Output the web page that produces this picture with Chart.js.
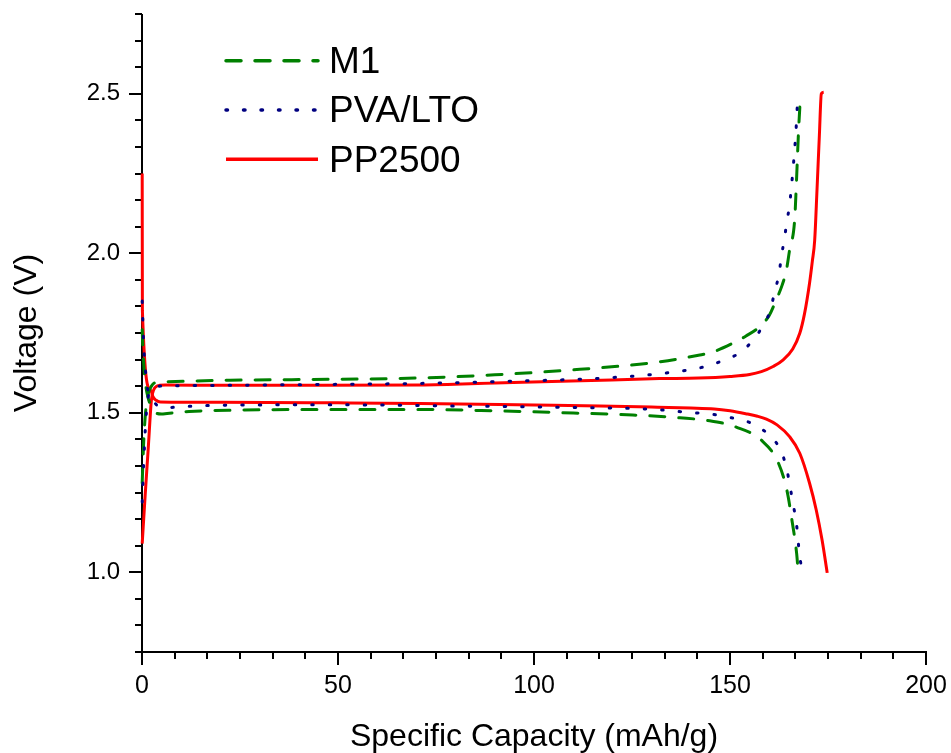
<!DOCTYPE html>
<html><head><meta charset="utf-8">
<script src="https://cdn.jsdelivr.net/npm/chart.js@4.4.1/dist/chart.umd.min.js"></script>
<style>html,body{margin:0;padding:0;background:#fff;}</style>
</head><body>
<canvas id="c" width="951" height="753"></canvas>
<script>
// ---- tick labels ----
const xTickValues = [0, 50, 100, 150, 200];
const xTickLabels = ['0', '50', '100', '150', '200'];
const yTickValues = [1.0, 1.5, 2.0, 2.5];
const yTickLabels = ['1.0', '1.5', '2.0', '2.5'];
const seriesNames = ['M1', 'PVA/LTO', 'PP2500'];

// ---- M1 (green dashed) ----
const m1ChargeCap = [0.05,0.4,0.9,1.6,2.5,3.5,5.6,22.5,50,71,90,111.7,130.3,142.3,145.7,150.7,154,157.6,160,161.8,163.3,164.4,165.2,166.5,166.9,167.5,168.0];
const m1ChargeV   = [1.28,1.40,1.50,1.56,1.585,1.595,1.597,1.602,1.605,1.609,1.619,1.636,1.657,1.681,1.691,1.718,1.740,1.770,1.805,1.854,1.90,1.948,2.01,2.105,2.209,2.387,2.497];
const m1DischCap  = [0.05,0.3,0.8,1.5,2.5,3.5,5,6.4,12,22.5,50,71.8,90,104.8,125.2,137.2,144.8,151.6,158,162.4,164.6,165.8,167,167.4];
const m1DischV    = [1.76,1.68,1.60,1.55,1.515,1.500,1.496,1.498,1.504,1.508,1.510,1.510,1.506,1.501,1.493,1.484,1.475,1.455,1.414,1.341,1.252,1.163,1.059,1.00];

// ---- PVA/LTO (navy dotted) ----
const pvaChargeCap = [0.05,0.5,1.0,1.6,2.5,4,10,40,71,95,116.8,134.6,144.4,148,152.5,155.9,158.5,160.3,161.4,162.5,163.1,163.9,164.5,165.2,166.1,166.8,167.3,167.5];
const pvaChargeV   = [1.22,1.36,1.48,1.55,1.575,1.583,1.585,1.588,1.592,1.599,1.608,1.626,1.647,1.663,1.688,1.728,1.775,1.822,1.880,1.935,1.989,2.047,2.099,2.152,2.267,2.377,2.486,2.50];
const pvaDischCap  = [0.05,0.4,0.9,1.3,2.6,3.4,4.5,6,10,22.5,50,74,113,130,140.5,144.4,149,153.3,157,160.6,163.1,164.5,165.3,166.1,166.9,167.8,168.6];
const pvaDischV    = [1.85,1.72,1.63,1.582,1.551,1.529,1.519,1.516,1.519,1.524,1.525,1.522,1.516,1.511,1.500,1.497,1.487,1.477,1.457,1.423,1.378,1.322,1.27,1.213,1.158,1.048,0.998];

// ---- PP2500 (red solid) ----
const ppChargeCap = [0.05,0.8,1.6,2.4,3.0,3.6,4.5,6,20,40,71,90,112,132,142,150,155,158,161,163.5,166,167.8,169,170.3,171.0,171.6,172.2,172.8,173.3,173.9];
const ppChargeV   = [1.09,1.24,1.39,1.54,1.572,1.582,1.586,1.587,1.586,1.586,1.587,1.593,1.600,1.607,1.609,1.614,1.620,1.629,1.645,1.665,1.700,1.749,1.810,1.907,1.975,2.040,2.200,2.370,2.500,2.505];
const ppDischCap  = [0.05,0.1,2.2,2.8,3.6,4.7,20,50,71,100,116.8,130,140,146,150,154,157,159.3,162,165.2,167.8,170.3,172,173.5,174.8];
const ppDischV    = [2.25,1.82,1.571,1.550,1.539,1.534,1.533,1.531,1.529,1.524,1.521,1.518,1.515,1.512,1.506,1.497,1.489,1.480,1.462,1.425,1.373,1.279,1.195,1.10,0.998];

const pts = (xs, ys) => xs.map((x, i) => ({x: x, y: ys[i]}));
const FONT = "'Liberation Sans', Arial, sans-serif";

const GREEN = '#008000', NAVY = '#000080', RED = '#FF0000';
function ds(name, data, color, dash, inLegend) {
  return {
    label: name, data: data, borderColor: color, backgroundColor: color,
    borderWidth: 3, borderDash: dash, borderCapStyle: dash.length ? 'round' : 'butt',
    pointRadius: 0, showLine: true, fill: false, cubicInterpolationMode: 'monotone',
    clip: false, inLegend: inLegend
  };
}
const datasets = [
  ds(seriesNames[1], pts(pvaChargeCap, pvaChargeV), NAVY, [1.5, 16], true),
  ds(seriesNames[1], pts(pvaDischCap, pvaDischV), NAVY, [1.5, 16], false),
  ds(seriesNames[0], pts(m1ChargeCap, m1ChargeV), GREEN, [15, 14], true),
  ds(seriesNames[0], pts(m1DischCap, m1DischV), GREEN, [15, 14], false),
  ds(seriesNames[2], pts(ppChargeCap, ppChargeV), RED, [], true),
  ds(seriesNames[2], pts(ppDischCap, ppDischV), RED, [], false)
];

const axesPlugin = {
  id: 'originAxes',
  beforeDatasetsDraw(chart) {
    const ctx = chart.ctx, a = chart.chartArea;
    const xs = chart.scales.x, ys = chart.scales.y;
    ctx.save();
    ctx.strokeStyle = '#000';
    ctx.lineWidth = 2;
    ctx.lineCap = 'butt';
    ctx.beginPath();
    ctx.moveTo(a.left, a.top); ctx.lineTo(a.left, a.bottom + 1);
    ctx.moveTo(a.left - 1, a.bottom); ctx.lineTo(a.right + 1, a.bottom);
    ctx.stroke();
    const xStep = (xTickValues[1] - xTickValues[0]) / 6;
    for (let i = 0; i <= Math.round((xs.max - xs.min) / xStep); i++) {
      const v = xs.min + i * xStep;
      const px = Math.round(xs.getPixelForValue(v));
      const major = i % 6 === 0;
      ctx.beginPath();
      ctx.moveTo(px, a.bottom); ctx.lineTo(px, a.bottom + (major ? 13 : 7));
      ctx.stroke();
    }
    const yStep = (yTickValues[1] - yTickValues[0]) / 6;
    for (let i = 0; i <= Math.round((ys.max - ys.min) / yStep); i++) {
      const v = ys.min + i * yStep;
      const py = Math.round(ys.getPixelForValue(v));
      const r = (v - yTickValues[0]) / (yStep * 6);
      const major = Math.abs(r - Math.round(r)) < 1e-6;
      ctx.beginPath();
      ctx.moveTo(a.left, py); ctx.lineTo(a.left - (major ? 13 : 7), py);
      ctx.stroke();
    }
    ctx.restore();
  }
};

const legendPlugin = {
  id: 'insideLegend',
  afterDraw(chart) {
    const ctx = chart.ctx, a = chart.chartArea;
    const order = [seriesNames[0], seriesNames[1], seriesNames[2]];
    const rows = [60.7, 110, 159.3];
    const baselines = [73.3, 121.7, 171.7];
    ctx.save();
    order.forEach((name, i) => {
      const d = chart.data.datasets.find(s => s.label === name && s.inLegend);
      ctx.strokeStyle = d.borderColor;
      ctx.lineWidth = 3.5;
      ctx.lineCap = d.borderDash.length ? 'round' : 'butt';
      ctx.setLineDash(d.borderDash);
      ctx.beginPath();
      ctx.moveTo(a.left + 84, rows[i]);
      ctx.lineTo(a.left + 176, rows[i]);
      ctx.stroke();
      ctx.setLineDash([]);
      ctx.fillStyle = '#000';
      ctx.font = '37px ' + FONT;
      ctx.textBaseline = 'alphabetic';
      ctx.textAlign = 'left';
      ctx.fillText(name, a.left + 187, baselines[i]);
    });
    ctx.restore();
  }
};

new Chart(document.getElementById('c'), {
  type: 'scatter',
  data: { datasets: datasets },
  options: {
    responsive: false, animation: false, devicePixelRatio: 1,
    layout: { padding: { left: 0, right: 25, top: 14, bottom: 0 } },
    plugins: { legend: { display: false }, tooltip: { enabled: false } },
    scales: {
      x: {
        type: 'linear', position: 'bottom', min: 0, max: 200,
        afterBuildTicks: s => { s.ticks = xTickValues.map(v => ({value: v})); },
        afterFit: s => { s.height = 101; s.paddingLeft = 0; s.paddingRight = 0; },
        grid: { display: false, drawTicks: false },
        border: { display: false },
        ticks: {
          color: '#000', font: { family: FONT, size: 25 }, padding: 19, maxRotation: 0,
          callback: (v) => xTickLabels[xTickValues.indexOf(v)]
        },
        title: { display: true, text: 'Specific Capacity (mAh/g)', color: '#000',
          font: { family: FONT, size: 32, lineHeight: 1 }, padding: 0 }
      },
      y: {
        type: 'linear', position: 'left', min: 0.75, max: 2.75,
        afterBuildTicks: s => { s.ticks = yTickValues.map(v => ({value: v})); },
        afterFit: s => { s.width = 142; s.paddingTop = 0; s.paddingBottom = 0; },
        grid: { display: false, drawTicks: false },
        border: { display: false },
        ticks: {
          color: '#000', font: { family: FONT, size: 24 }, padding: 22,
          callback: (v) => yTickLabels[yTickValues.findIndex(t => Math.abs(t - v) < 1e-9)]
        },
        title: { display: true, text: 'Voltage (V)', color: '#000',
          font: { family: FONT, size: 32, lineHeight: 1 }, padding: { top: 11, bottom: 0 } }
      }
    }
  },
  plugins: [axesPlugin, legendPlugin]
});
</script>
</body></html>
